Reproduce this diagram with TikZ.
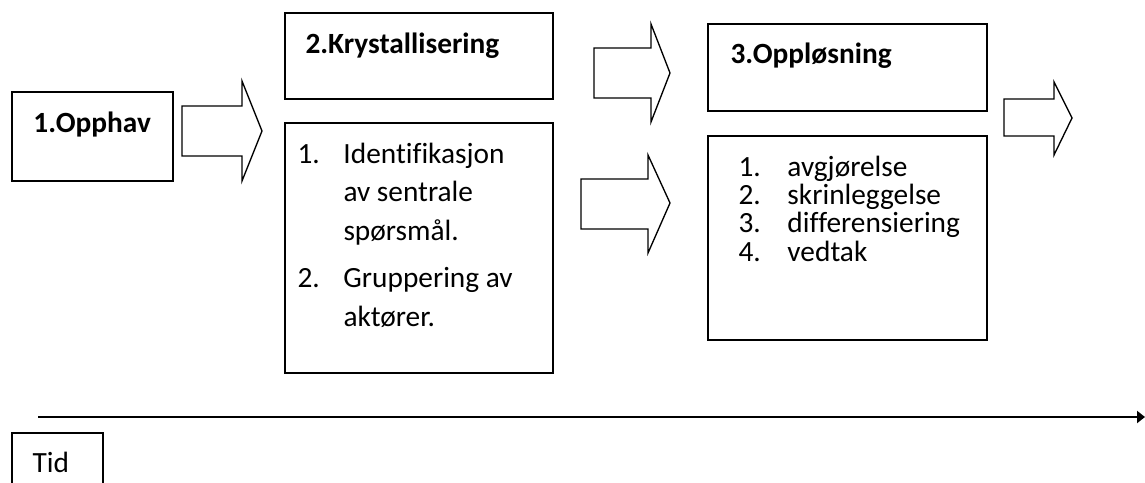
\documentclass[tikz,border=0pt]{standalone}
\usepackage{fontspec}
\setmainfont{Carlito}[Ligatures=NoCommon]
\usetikzlibrary{arrows.meta}

\tikzset{every picture/.style={line width=0.75pt}}
\tikzset{
  box/.style={draw, line width=1.2pt, anchor=north west, inner sep=0pt, outer sep=0pt},
  blockarrow/.style={draw, line width=1pt, line join=miter},
  title/.style={anchor=base west, inner sep=0pt, font=\fontsize{22}{26}\selectfont\bfseries},
  listtext/.style={anchor=base west, inner sep=0pt, font=\fontsize{22}{29}\selectfont},
}

\begin{document}
\begin{tikzpicture}[x=0.75pt,y=0.75pt,yscale=-1,xscale=1]
\useasboundingbox (0,0) rectangle (1145,482);

%Boxes
\node [box, minimum width=120.75pt, minimum height=66.75pt] (opphav) at (12,92) {};
\node [box, minimum width=201pt, minimum height=64.5pt] (kryst) at (285,13) {};
\node [box, minimum width=201pt, minimum height=187.5pt] (krystliste) at (285,123) {};
\node [box, minimum width=209.25pt, minimum height=65.25pt] (opplos) at (708,24) {};
\node [box, minimum width=209.25pt, minimum height=153pt] (opplosliste) at (708,136) {};
\node [box, minimum width=68.25pt, minimum height=50.25pt] (tid) at (12,433) {};

%Block arrows
\draw [blockarrow] (182,106) -- (242,106) -- (242,81) -- (262,131) -- (242,181) -- (242,156) -- (182,156) -- cycle ;
\draw [blockarrow] (594,48) -- (651,48) -- (651,24) -- (670,73) -- (651,122) -- (651,98) -- (594,98) -- cycle ;
\draw [blockarrow] (581,179) -- (648,179) -- (648,155) -- (670,203) -- (648,253) -- (648,229) -- (581,229) -- cycle ;
\draw [blockarrow] (1004,99) -- (1054,99) -- (1054,82) -- (1072,118) -- (1054,155) -- (1054,136) -- (1004,136) -- cycle ;

%Time axis
\coordinate (tidstart) at (38,417);
\coordinate (tidslutt) at (1145,417);
\draw [line width=1.6pt, -{Triangle[length=6pt,width=9pt]}] (tidstart) -- (tidslutt);

% Text Node
\node [title] (opphavtekst) at (33,132) {1.Opphav};
% Text Node
\node [title] (krysttekst) at (305,53) {2.Krystallisering};
% Text Node
\node [title] (oppslostekst) at (730,63) {3.Oppløsning};
% Text Node
\node [listtext] (krystpunkter) at (297,163) {\begin{tabular}[t]{@{}p{34.5pt}@{}l@{}}
1. & Identifikasjon\\
   & av sentrale\\
   & spørsmål.\\[6.5pt]
2. & Gruppering av\\
   & aktører.
\end{tabular}};
% Text Node
\node [listtext, font=\fontsize{22}{20}\selectfont] (opplospunkter) at (738,176) {\begin{tabular}[t]{@{}p{36.75pt}@{}l@{}}
1. & avgjørelse\\
2. & skrinleggelse\\
3. & differensiering\\
4. & vedtak
\end{tabular}};
% Text Node
\node [listtext] (tidtekst) at (32,472) {Tid};

\end{tikzpicture}
\end{document}
